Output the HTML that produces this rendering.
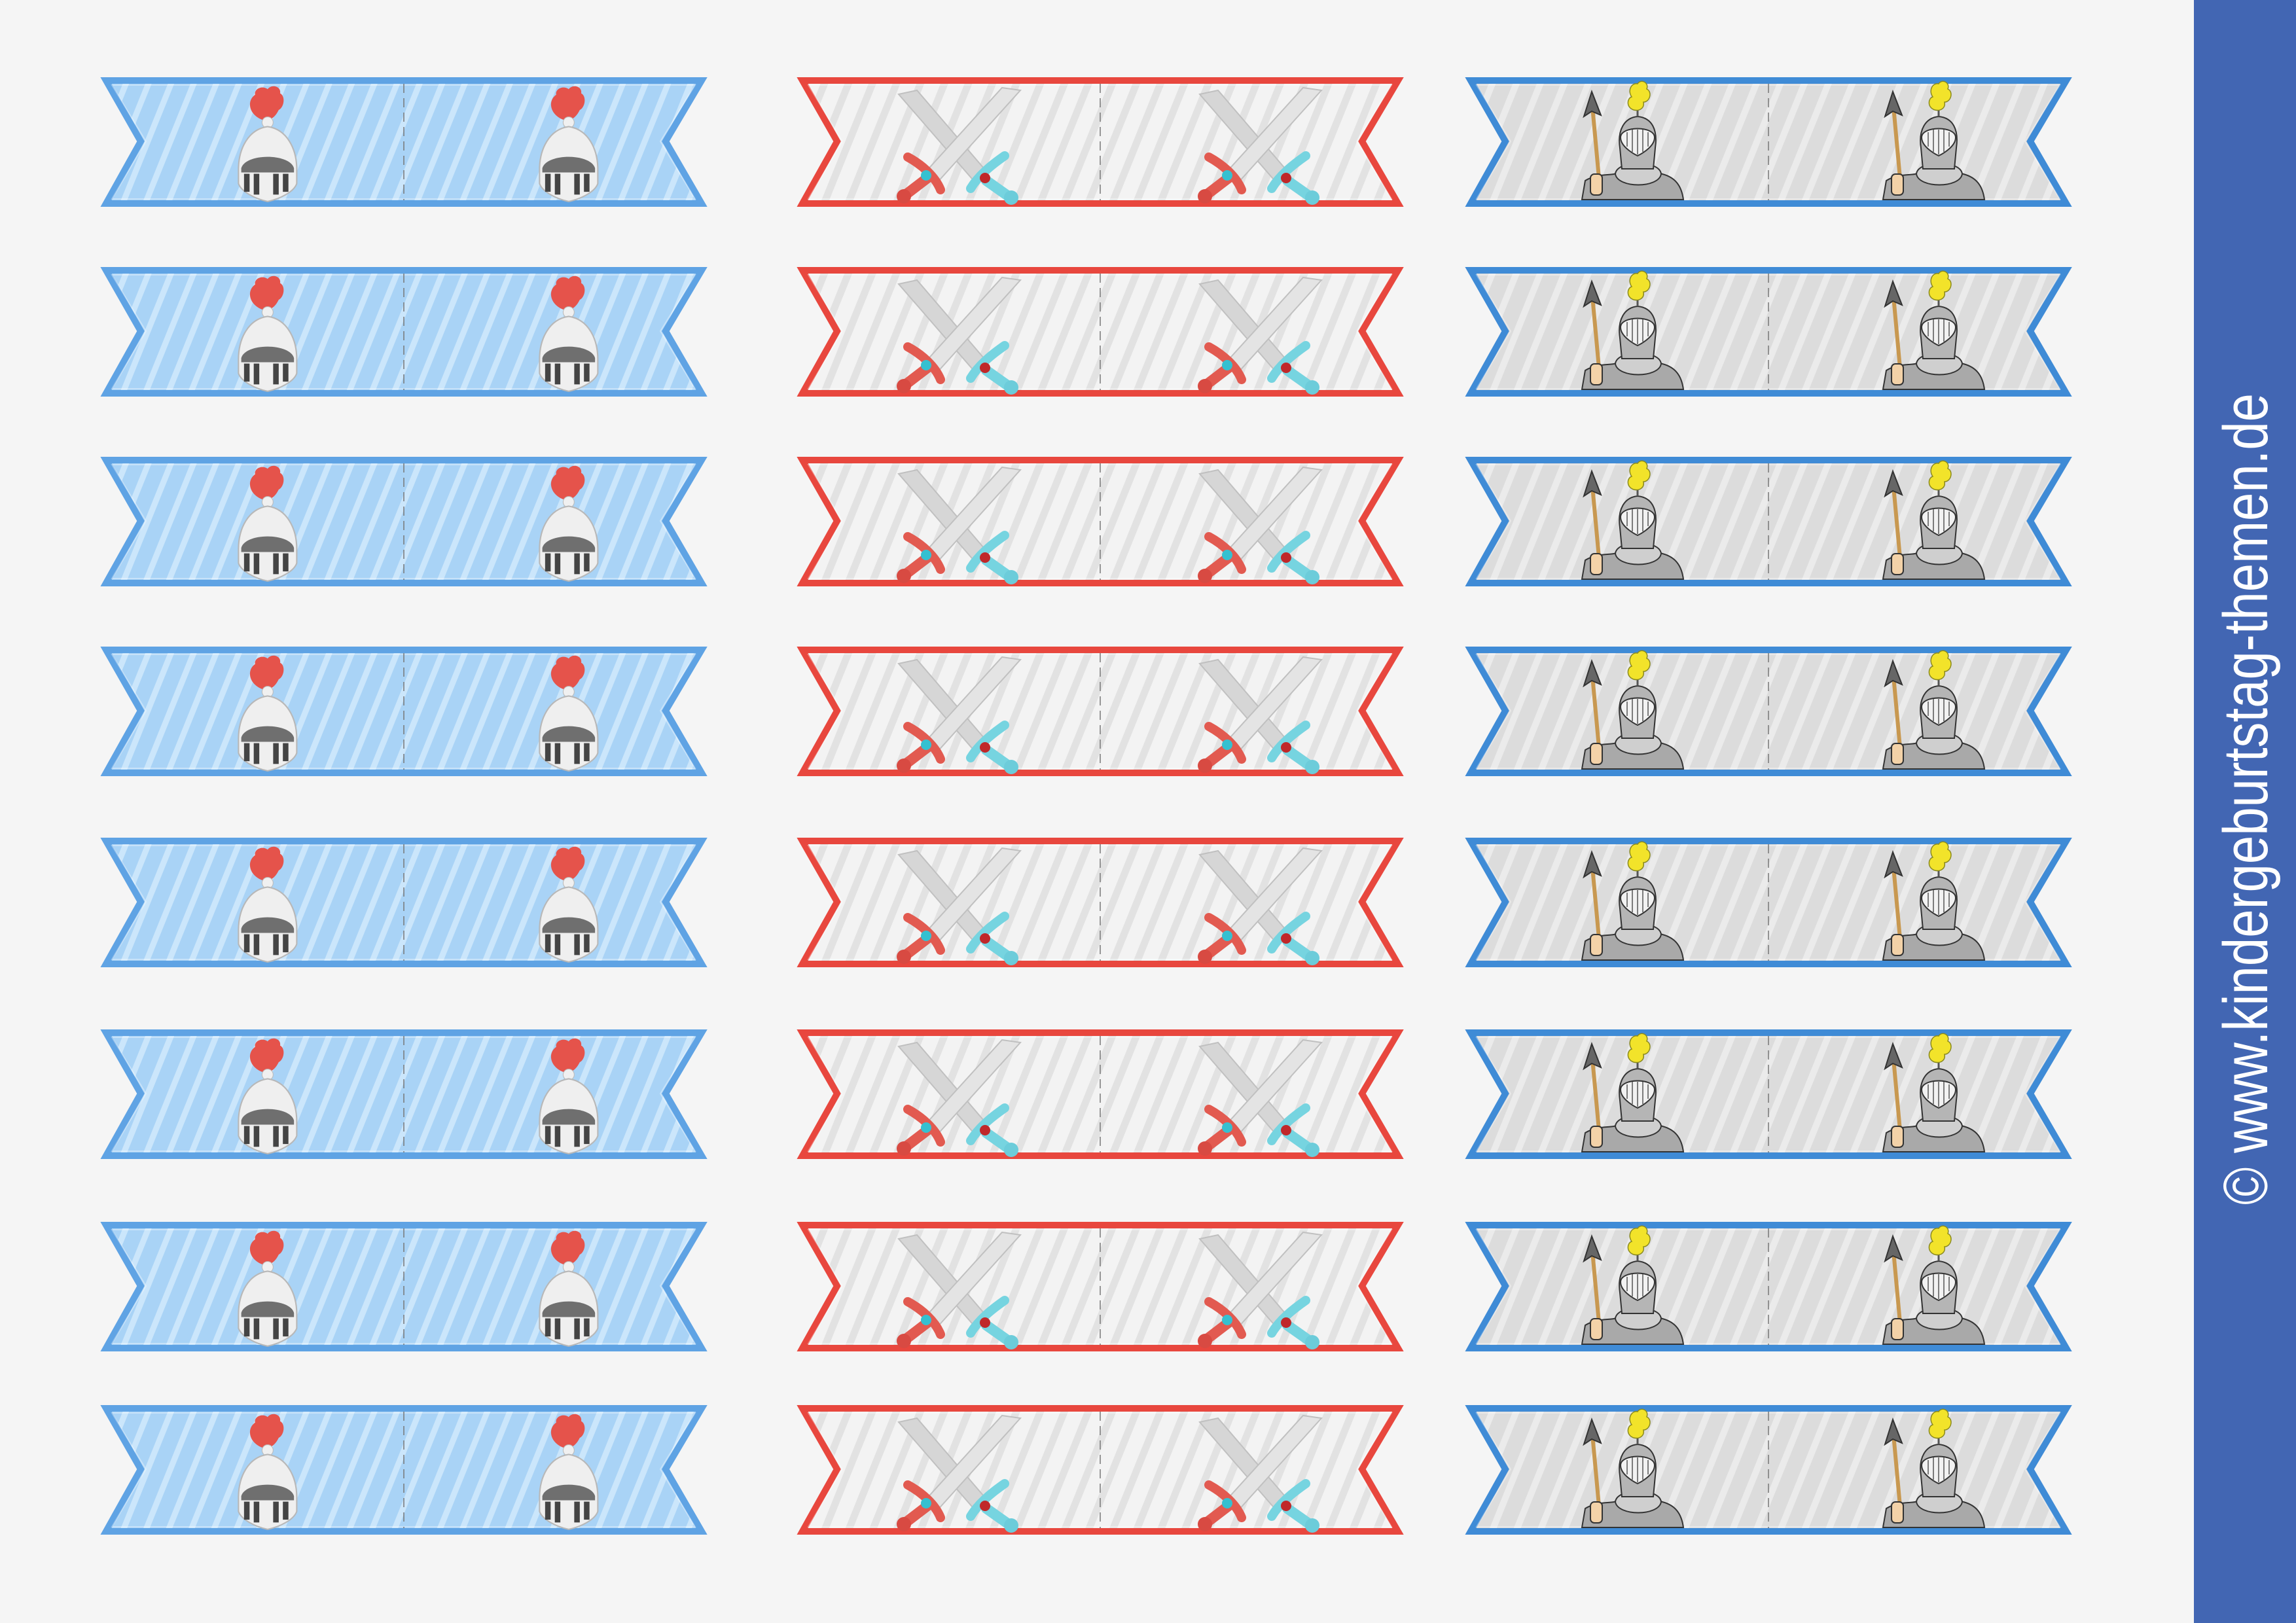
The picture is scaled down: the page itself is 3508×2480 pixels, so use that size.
<!DOCTYPE html>
<html><head><meta charset="utf-8"><style>
html,body{margin:0;padding:0;background:#f5f5f5;}
svg{display:block;}
</style></head><body>
<svg width="3508" height="2480" viewBox="0 0 3508 2480" xmlns="http://www.w3.org/2000/svg">
<defs>
<pattern id="pb" width="32" height="32" patternUnits="userSpaceOnUse" patternTransform="rotate(22)">
<rect width="32" height="32" fill="#a9d3f6"/><rect x="0" width="9" height="32" fill="#cbe6fb"/></pattern>
<pattern id="pr" width="34" height="34" patternUnits="userSpaceOnUse" patternTransform="rotate(22)">
<rect width="34" height="34" fill="#f3f3f3"/><rect x="0" width="11" height="34" fill="#e2e2e2"/></pattern>
<pattern id="pg" width="34" height="34" patternUnits="userSpaceOnUse" patternTransform="rotate(22)">
<rect width="34" height="34" fill="#dcdcdc"/><rect x="0" width="10" height="34" fill="#ebebeb"/></pattern>

<g id="helmet">
<path d="M-10,48 C-30,40 -32,20 -20,12 C-22,4 -10,-2 -2,4 C4,-4 18,0 16,10 C24,14 22,30 14,34 C10,42 6,46 0,48 Z" fill="#e5534b"/>
<circle cx="-2" cy="52" r="8" fill="#f0f0f0" stroke="#bbb" stroke-width="1"/>
<path d="M-2,58 C-30,62 -44,90 -44,120 L-44,140 C-40,152 -20,162 -2,166 C16,162 36,152 40,140 L40,120 C40,90 26,62 -2,58 Z" fill="#efefef" stroke="#b8b8b8" stroke-width="2"/>
<path d="M-40,118 C-34,96 30,96 36,118 L36,124 L-40,124 Z" fill="#6f6f6f"/>
<g fill="#444"><rect x="-36" y="126" width="8" height="26"/><rect x="-22" y="126" width="8" height="30"/><rect x="6" y="126" width="8" height="30"/><rect x="20" y="126" width="8" height="26"/></g>
</g>

<g id="swords">
<polygon points="0,4 28,-2 136,124 118,140" fill="#d6d6d6" stroke="#c0c0c0" stroke-width="2"/>
<polygon points="158,-6 186,-2 58,140 40,124" fill="#e4e4e4" stroke="#c0c0c0" stroke-width="2"/>
<path d="M14,100 C36,112 56,130 64,150" stroke="#e25a50" stroke-width="14" fill="none" stroke-linecap="round"/>
<path d="M44,132 L10,158" stroke="#e25a50" stroke-width="16" stroke-linecap="round"/>
<circle cx="8" cy="160" r="11" fill="#d84a42"/>
<circle cx="42" cy="128" r="8" fill="#35c0d0"/>
<path d="M162,98 C142,112 122,128 110,148" stroke="#76d4e0" stroke-width="14" fill="none" stroke-linecap="round"/>
<path d="M134,136 L168,160" stroke="#76d4e0" stroke-width="16" stroke-linecap="round"/>
<circle cx="172" cy="162" r="11" fill="#6cccda"/>
<circle cx="132" cy="132" r="8" fill="#c0282a"/>
</g>

<g id="knight">
<line x1="198" y1="34" x2="212" y2="187" stroke="#c89850" stroke-width="6"/>
<polygon points="198,22 186,60 198,52 212,58" fill="#666" stroke="#333" stroke-width="2"/>
<path d="M183,187 L188,158 C205,148 220,150 232,148 C250,140 290,140 306,148 C325,153 335,165 338,187 Z" fill="#a9a9a9" stroke="#333" stroke-width="2"/>
<path d="M234,148 C236,126 302,126 304,148 C300,170 238,170 234,148 Z" fill="#cfcfcf" stroke="#333" stroke-width="2"/>
<rect x="196" y="148" width="18" height="32" rx="6" fill="#f3d2a8" stroke="#333" stroke-width="2"/>
<path d="M244,140 L241,108 C237,80 248,62 268,60 C290,62 299,80 295,108 L292,140 Z" fill="#b5b5b5" stroke="#333" stroke-width="2"/>
<path d="M242,92 C242,74 294,74 294,92 C294,108 268,120 268,120 C268,120 242,108 242,92 Z" fill="#f2f2f2" stroke="#333" stroke-width="2"/>
<g stroke="#555" stroke-width="1.5"><line x1="252" y1="84" x2="252" y2="106"/><line x1="260" y1="80" x2="260" y2="114"/><line x1="268" y1="80" x2="268" y2="118"/><line x1="276" y1="80" x2="276" y2="114"/><line x1="284" y1="84" x2="284" y2="106"/></g>
<line x1="268" y1="60" x2="268" y2="46" stroke="#555" stroke-width="3"/>
<path d="M262,50 C250,46 252,32 259,30 C252,20 259,8 268,10 C273,2 286,8 282,18 C291,22 287,38 277,38 C279,48 270,52 262,50 Z" fill="#f2e32a" stroke="#8a8a20" stroke-width="1.5"/>
</g>
</defs>

<rect width="3508" height="2480" fill="#f5f5f5"/>

<g id="all"></g>

<rect x="3352" y="0" width="156" height="2480" fill="#4266b3"/>
<text transform="translate(3464,1841) rotate(-90)" font-family="Liberation Sans, sans-serif" font-size="96" fill="#ffffff" textLength="1240" lengthAdjust="spacingAndGlyphs">© www.kindergeburtstag-themen.de</text>
</svg>
<script>
var rows=[118,408,698,988,1280,1573,1867,2147];
var cols=[[157,'pb','#5fa3e4','helmet'],[1221,'pr','#e8473e','swords'],[2242,'pg','#3f8bd6','knight']];
var g=document.getElementById('all'),h='';
rows.forEach(function(y){cols.forEach(function(c){
var x=c[0];
h+='<g transform="translate('+x+','+y+')">';
h+='<polygon points="5,5 915,5 860,98 915,193 5,193 58,98" fill="url(#'+c[1]+')" stroke="'+c[2]+'" stroke-width="10"/>';
h+='<polygon points="14,12 905,12 852,98 905,186 14,186 66,98" fill="none" stroke="rgba(255,255,255,0.35)" stroke-width="2"/>';
h+='<line x1="460" y1="10" x2="460" y2="188" stroke="#777" stroke-width="1.5" stroke-dasharray="14,8"/>';
for(var k=0;k<2;k++){var ox=k*460;
if(c[3]=='helmet')h+='<use href="#helmet" transform="translate('+(254+ox)+',14) scale(1.06)"/>';
else if(c[3]=='swords')h+='<use href="#swords" transform="translate('+(152+ox)+',22)"/>';
else h+='<use href="#knight" transform="translate('+(ox-8)+',0)"/>';}
h+='</g>';});});
g.innerHTML=h;
</script>
</body></html>
